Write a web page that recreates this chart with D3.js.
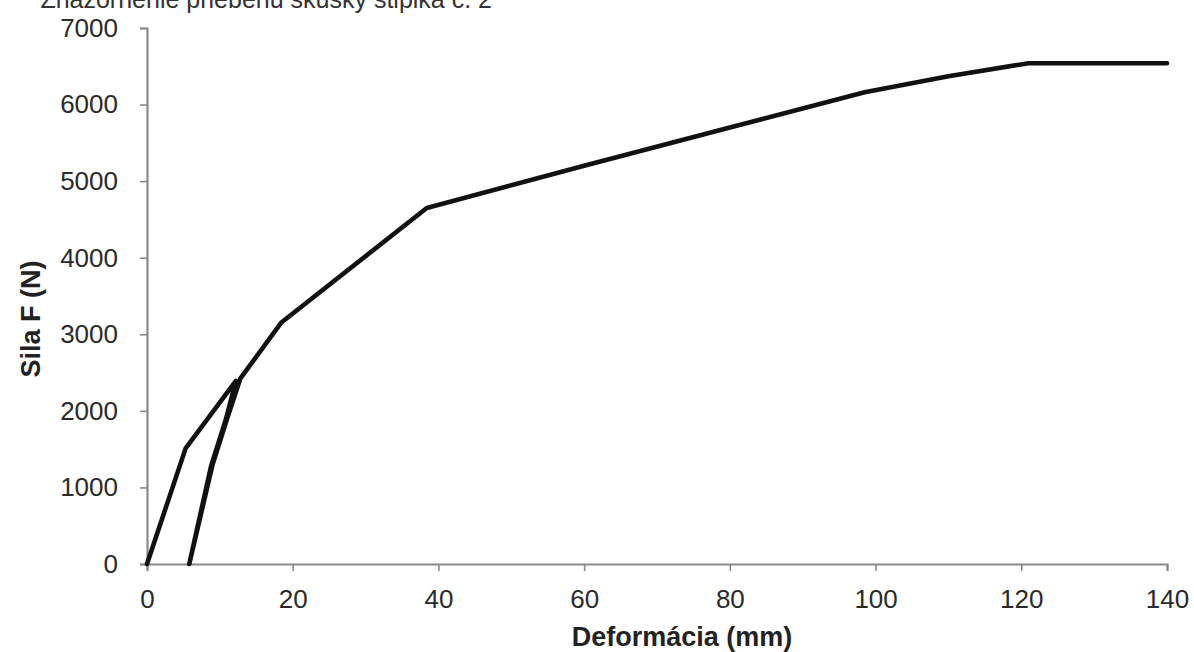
<!DOCTYPE html>
<html>
<head>
<meta charset="utf-8">
<script src="https://cdnjs.cloudflare.com/ajax/libs/d3/7.8.5/d3.min.js"></script>
<style>
  body { margin: 0; background: #fff; }
  svg { display: block; font-family: "Liberation Sans", Arial, sans-serif; }
</style>
</head>
<body>
<div id="chart"></div>
<script>
/// Chart values
var title = "Znázornenie priebehu skúšky stĺpika č. 2"
var xLabel = "Deformácia (mm)"
var yLabel = "Sila F (N)"

/// Deformation (mm) and force (N) along the loading path, in drawing order:
/// first loading, unloading to zero, then reloading up to the end.
var deform = [0, 5.3, 12.2, 10.8, 8.8, 5.8, 9.0, 11.0, 12.8, 18.4, 38.4, 60, 80, 98.5, 110, 121, 140]
var force  = [0, 1510, 2390, 1880, 1280, 0, 1300, 1900, 2420, 3150, 4650, 5200, 5700, 6160, 6370, 6540, 6540]

var xTicks = [0, 20, 40, 60, 80, 100, 120, 140]
var yTicks = [0, 1000, 2000, 3000, 4000, 5000, 6000, 7000]

var W = 1194, H = 652
var margin = {top: 28, right: 27, bottom: 88, left: 147}

var svg = d3.select("#chart").append("svg")
    .attr("width", W)
    .attr("height", H)

var x = d3.scaleLinear().domain([0, 140]).range([margin.left, W - margin.right])
var y = d3.scaleLinear().domain([0, 7000]).range([H - margin.bottom, margin.top])

/// Axes
var gx = svg.append("g")
    .attr("transform", "translate(0," + (H - margin.bottom) + ")")
    .call(d3.axisBottom(x).tickValues(xTicks).tickFormat(d3.format("d")).tickSize(7).tickPadding(19))
var gy = svg.append("g")
    .attr("transform", "translate(" + margin.left + ",0)")
    .call(d3.axisLeft(y).tickValues(yTicks).tickFormat(d3.format("d")).tickSize(7).tickPadding(22))

;[gx, gy].forEach(function(g) {
    g.select(".domain").attr("stroke", "#8a8a8a").attr("stroke-width", 2.2)
    g.selectAll(".tick line").attr("stroke", "#8a8a8a").attr("stroke-width", 1.6)
    g.selectAll(".tick text")
	.attr("font-size", 26)
	.attr("fill", "#2a2a2a")
	.attr("font-family", "'Liberation Sans', Arial, sans-serif")
})

/// The curve
var pts = deform.map(function(d, i) { return [d, force[i]] })
svg.append("path")
    .datum(pts)
    .attr("fill", "none")
    .attr("stroke", "#111")
    .attr("stroke-width", 4.6)
    .attr("stroke-linejoin", "round")
    .attr("stroke-linecap", "round")
    .attr("d", d3.line().x(d => x(d[0])).y(d => y(d[1])))

/// Titles
svg.append("text")
    .attr("x", 682)
    .attr("y", 646)
    .attr("text-anchor", "middle")
    .attr("font-size", 27)
    .attr("font-weight", "bold")
    .attr("fill", "#222")
    .text(xLabel)

svg.append("text")
    .attr("transform", "translate(40," + 319 + ") rotate(-90)")
    .attr("text-anchor", "middle")
    .attr("font-size", 27)
    .attr("font-weight", "bold")
    .attr("fill", "#222")
    .text(yLabel)

svg.append("text")
    .attr("x", 492)
    .attr("y", 8)
    .attr("text-anchor", "end")
    .attr("font-size", 25)
    .attr("fill", "#333")
    .text(title)
</script>
</body>
</html>
